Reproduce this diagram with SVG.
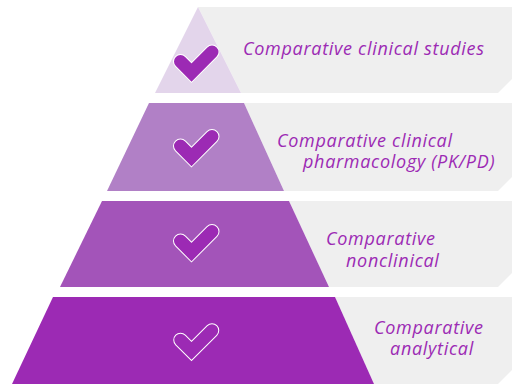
<svg xmlns="http://www.w3.org/2000/svg" width="512" height="385" viewBox="0 0 512 385">
<style>
.band{fill:#efefef}
.lbl{font-family:"Open Sans","Noto Sans",sans-serif;font-style:italic;font-size:18px;letter-spacing:0.7px;fill:#9c2ab4}
.chk-o{fill:none;stroke:#ffffff;stroke-width:15;stroke-linecap:round;stroke-linejoin:miter}
.chk-i{fill:none;stroke:#9c2ab4;stroke-width:13;stroke-linecap:round;stroke-linejoin:miter}
</style>
<rect width="512" height="385" fill="#ffffff"/>
<g id="tier1">
<polygon class="band" points="198,7 512,7 512,79 498,93 241,93"/>
<polygon fill="#e3d5eb" points="198,7 241,93 155,93"/>
<path class="chk-o" d="M180.5,61.5 L191.5,72.5 L212,52"/>
<path class="chk-i" d="M180.5,61.5 L191.5,72.5 L212,52"/>
<text class="lbl" x="243" y="55">Comparative clinical studies</text>
</g>
<g id="tier2">
<polygon class="band" points="244,103 512,103 512,177 498,191 284,191"/>
<polygon fill="#b180c6" points="149,103 244,103 284,191 107,191"/>
<path class="chk-o" d="M180.5,146 L191.5,157 L212,136.5"/>
<path class="chk-i" d="M180.5,146 L191.5,157 L212,136.5"/>
<text class="lbl" x="277" y="147">Comparative clinical</text>
<text class="lbl" x="303" y="168">pharmacology (PK/PD)</text>
</g>
<g id="tier3">
<polygon class="band" points="289,201 512,201 512,273 498,287 329,287"/>
<polygon fill="#a354b9" points="102,201 289,201 329,287 60,287"/>
<path class="chk-o" d="M180.5,241 L191.5,252 L212,231.5"/>
<path class="chk-i" d="M180.5,241 L191.5,252 L212,231.5"/>
<text class="lbl" x="326" y="245">Comparative</text>
<text class="lbl" x="346" y="267">nonclinical</text>
</g>
<g id="tier4">
<polygon class="band" points="335,297 512,297 512,370 498,384 374,384"/>
<polygon fill="#9c2ab4" points="53,297 335,297 374,384 12,384"/>
<path fill="none" stroke="#ffffff" stroke-width="14.5" stroke-linecap="round" d="M180.5,340 L191.5,351 L212,330.5"/>
<path fill="none" stroke="#9c2ab4" stroke-width="12.5" stroke-linecap="round" d="M180.5,340 L191.5,351 L212,330.5"/>
<text class="lbl" x="374" y="334">Comparative</text>
<text class="lbl" x="390" y="355">analytical</text>
</g>
<g id="connectors"></g>
</svg>
